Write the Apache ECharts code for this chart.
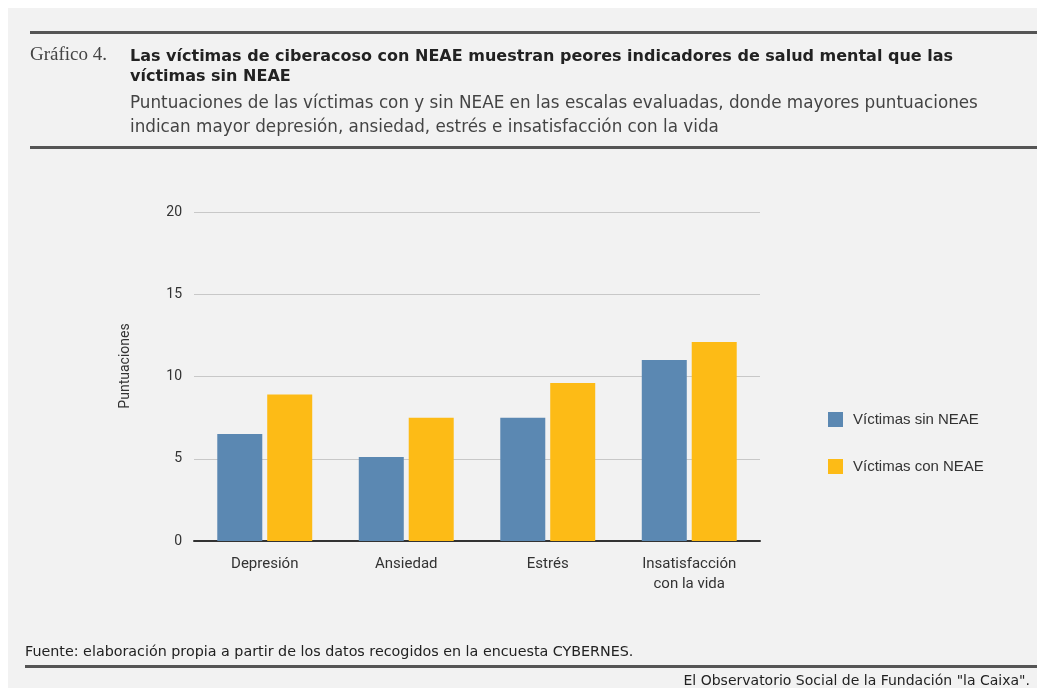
<!DOCTYPE html>
<html>
<head>
<meta charset="utf-8">
<script src="https://cdn.jsdelivr.net/npm/echarts@6/dist/echarts.min.js"></script>
<style>
  html, body { margin: 0; padding: 0; background: #ffffff; }
  #chart { width: 1037px; height: 688px; }
</style>
</head>
<body>
<div id="chart"></div>
<script>
// categorias y valores
const categorias = ['Depresión', 'Ansiedad', 'Estrés', 'Insatisfacción\ncon la vida'];
const sinNEAE = [6.5, 5.1, 7.5, 11.0];
const conNEAE = [8.9, 7.5, 9.6, 12.1];
const yTicks = [0, 5, 10, 15, 20];

const chart = echarts.init(document.getElementById('chart'));

chart.setOption({
  backgroundColor: '#ffffff',
  animation: false,
  graphic: [
    // fondo gris
    { type: 'rect', left: 8, top: 8, shape: { width: 1029, height: 680 }, style: { fill: '#f2f2f2' }, z: -10 },
    // lineas de cabecera y pie
    { type: 'rect', left: 30, top: 31, shape: { width: 1007, height: 3 }, style: { fill: '#555' } },
    { type: 'rect', left: 30, top: 146, shape: { width: 1007, height: 3 }, style: { fill: '#555' } },
    { type: 'rect', left: 25, top: 665, shape: { width: 1012, height: 3 }, style: { fill: '#555' } },
    // titulo del eje y
    {
      type: 'text', x: 125, y: 366, rotation: Math.PI / 2,
      style: {
        text: 'Puntuaciones', fontFamily: 'Roboto', fontSize: 14, fill: '#333',
        align: 'center', verticalAlign: 'middle'
      }
    }
  ],
  title: [
    {
      text: 'Gráfico 4.',
      left: 30, top: 46, padding: 0,
      textStyle: { fontFamily: 'Liberation Serif', fontSize: 19, fontWeight: 'normal', color: '#444' }
    },
    {
      text: 'Las víctimas de ciberacoso con NEAE muestran peores indicadores de salud mental que las\nvíctimas sin NEAE',
      left: 130, top: 47, padding: 0,
      textStyle: { fontFamily: 'DejaVu Sans', fontSize: 16, fontWeight: 'bold', color: '#222', lineHeight: 20 }
    },
    {
      text: 'Puntuaciones de las víctimas con y sin NEAE en las escalas evaluadas, donde mayores puntuaciones\nindican mayor depresión, ansiedad, estrés e insatisfacción con la vida',
      left: 130, top: 92, padding: 0,
      textStyle: { fontFamily: 'DejaVu Sans', fontSize: 16.8, fontWeight: 'normal', color: '#444', lineHeight: 24 }
    },
    {
      text: 'Fuente: elaboración propia a partir de los datos recogidos en la encuesta CYBERNES.',
      left: 25, top: 645, padding: 0,
      textStyle: { fontFamily: 'DejaVu Sans', fontSize: 14.3, fontWeight: 'normal', color: '#222' }
    },
    {
      text: 'El Observatorio Social de la Fundación "la Caixa".',
      right: 7, top: 674, padding: 0,
      textStyle: { fontFamily: 'DejaVu Sans', fontSize: 14, fontWeight: 'normal', color: '#222' }
    }
  ],
  legend: {
    orient: 'vertical',
    left: 823, top: 407,
    itemWidth: 15, itemHeight: 15, itemGap: 32,
    icon: 'rect',
    textStyle: { fontFamily: 'Liberation Sans', fontSize: 15, color: '#333', padding: [0, 0, 0, 5] },
    data: ['Víctimas sin NEAE', 'Víctimas con NEAE']
  },
  grid: { left: 194, right: 277, top: 212, bottom: 147 },
  xAxis: {
    type: 'category',
    data: categorias,
    axisLine: { lineStyle: { color: '#333', width: 2 } },
    axisTick: { show: false },
    axisLabel: { fontFamily: 'Roboto', fontSize: 15, color: '#333', margin: 13, lineHeight: 20 }
  },
  yAxis: {
    type: 'value',
    min: 0, max: 20, interval: 5,
    axisLine: { show: false },
    axisTick: { show: false },
    axisLabel: {
      fontFamily: 'Roboto', fontSize: 14, color: '#333', margin: 12,
      formatter: v => yTicks.includes(v) ? String(v) : ''
    },
    splitLine: { lineStyle: { color: '#c8c8c8', width: 1 } }
  },
  series: [
    {
      name: 'Víctimas sin NEAE',
      type: 'bar',
      data: sinNEAE,
      itemStyle: { color: '#5b88b2' },
      barWidth: 45,
      barGap: '11%'
    },
    {
      name: 'Víctimas con NEAE',
      type: 'bar',
      data: conNEAE,
      itemStyle: { color: '#fdbb16' },
      barWidth: 45,
      barGap: '11%'
    }
  ]
});
</script>
</body>
</html>
